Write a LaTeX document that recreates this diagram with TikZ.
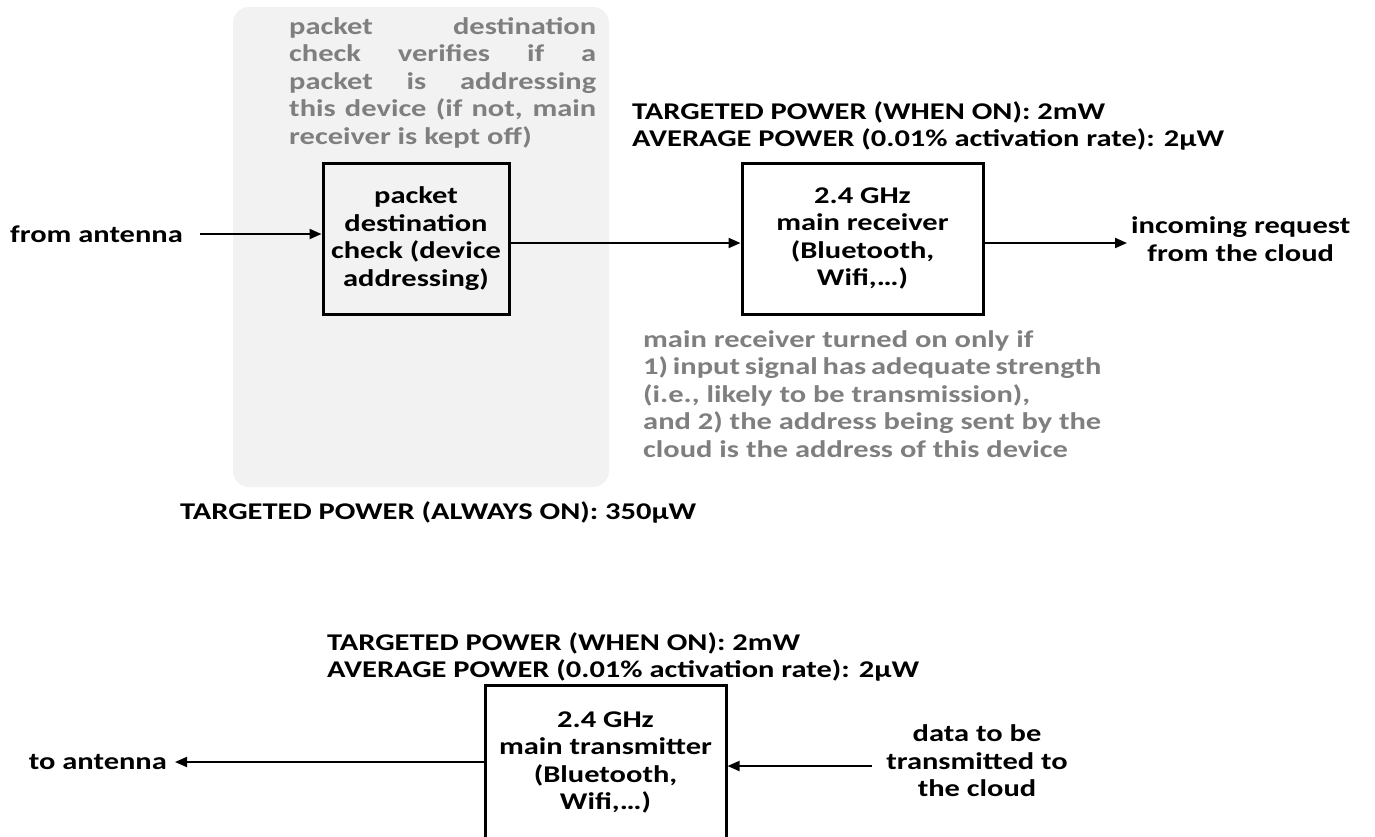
\documentclass[tikz,border=0pt]{standalone}
\usepackage{fontspec}
\setmainfont{Carlito}[FakeStretch=1.27]
\usetikzlibrary{arrows.meta}
\definecolor{notegray}{HTML}{7F7F7F}
\definecolor{panelgray}{HTML}{F2F2F2}
\begin{document}
\begin{tikzpicture}[x=1pt,y=-1pt,
  txt/.style={font=\fontsize{24}{27.5}\selectfont\bfseries, inner sep=0pt, align=center},
  note/.style={font=\fontsize{24}{27.5}\selectfont\bfseries, inner sep=0pt, align=justify, text=notegray},
  blockbox/.style={draw=black, line width=3pt, font=\fontsize{24}{27.5}\selectfont\bfseries, align=center, inner sep=0pt},
  conn/.style={line width=2pt, -{Triangle[length=12pt,width=10pt]}}
]
\useasboundingbox (0,0) rectangle (1375,836);
\clip (0,0) rectangle (1375,836);
\fill[panelgray, rounded corners=16pt] (233,7) rectangle (609,487);

\node[note, text width=307pt, anchor=north west] (note1) at (289,17)
 {packet destination\linebreak check verifies if a\linebreak packet is addressing\linebreak this device (if not, main\linebreak receiver is kept off)};

\node[blockbox, minimum width=186pt, minimum height=151pt] (pdc) at (416,238.5)
 {packet\\destination\\check (device\\addressing)};
\node[blockbox, minimum width=241pt, minimum height=151pt] (rx) at (862.5,238.5)
 {2.4 GHz\\main receiver\\(Bluetooth,\\Wifi,…)};

\node[txt, anchor=east] (src) at (183,234) {from antenna};
\node[txt, anchor=west] (inc) at (1131,239) {incoming request\\from the cloud};

\node[txt, align=left, anchor=west] (prx) at (632,126)
 {TARGETED POWER (WHEN ON): 2mW\\AVERAGE POWER (0.01\% activation rate): 2μW};

\node[note, text width=458pt, anchor=north west] (note2) at (643,330)
 {main receiver turned on only if\\1) input signal has adequate strength\linebreak (i.e., likely to be transmission),\\and 2) the address being sent by the\linebreak cloud is the address of this device};

\node[txt, anchor=west] (pon) at (180,512) {TARGETED POWER (ALWAYS ON): 350μW};

\node[txt, align=left, anchor=west] (ptx) at (327,657)
 {TARGETED POWER (WHEN ON): 2mW\\AVERAGE POWER (0.01\% activation rate): 2μW};

\node[blockbox, minimum width=241pt, minimum height=155pt] (tx) at (605.5,762.5)
 {2.4 GHz\\main transmitter\\(Bluetooth,\\Wifi,…)};

\node[txt, anchor=east] (dst) at (167,762) {to antenna};
\node[txt] (data) at (977,761) {data to be\\transmitted to\\the cloud};

\coordinate (srcend) at (200,234);
\coordinate (incend) at (1127,243);
\coordinate (dstend) at (175,762);
\coordinate (datastart) at (872,766);

\draw[conn] (srcend) -- (srcend -| pdc.west);
\draw[conn] ([yshift=-4.5pt]pdc.east) -- ([yshift=-4.5pt]rx.west);
\draw[conn] ([yshift=-4.5pt]rx.east) -- (incend);
\draw[conn] (tx.west |- dstend) -- (dstend);
\draw[conn] (datastart) -- (datastart -| tx.east);
\end{tikzpicture}
\end{document}
